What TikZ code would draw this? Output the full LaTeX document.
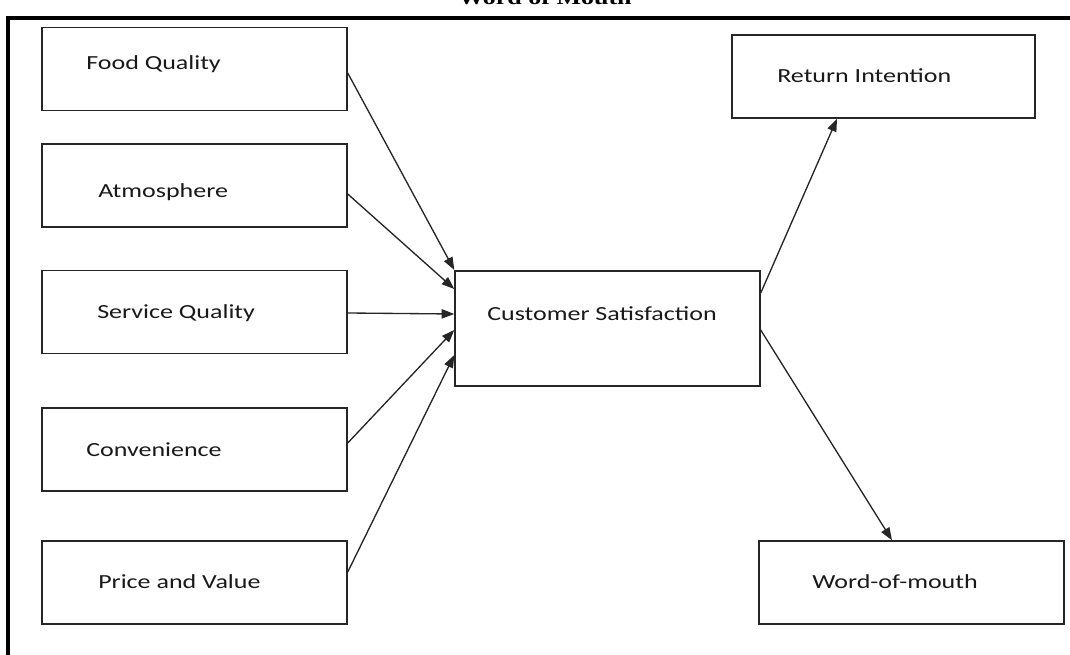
\documentclass[tikz,border=0pt]{standalone}
\usepackage{fontspec}
\usepackage{graphicx}
\setmainfont{Carlito}
\newfontfamily\titlefont{Liberation Serif}
\usetikzlibrary{arrows.meta}
\tikzset{
  px/.style={x=0.75pt,y=-0.75pt},
  box/.style={draw=black!85,line width=1.1pt,rectangle,inner sep=0pt,minimum width=228.75pt,minimum height=62.25pt},
  lbl/.style={anchor=base west,inner sep=0pt,text=black!90,font=\fontsize{15}{18}\selectfont},
  arr/.style={draw=black!85,line width=1pt,-{Triangle[length=9.5pt,width=7pt]}},
  frame/.style={draw=black,line width=2.3pt}
}
\newcommand{\wide}[1]{\scalebox{1.3}[1]{#1}}
\begin{document}
\begin{tikzpicture}[px]
\useasboundingbox (0,0) rectangle (1070,655);
% frame
\draw[frame] (8,660) -- (8,18) -- (1075,18);
\node[anchor=base,inner sep=0pt,font=\titlefont\bfseries\fontsize{15}{18}\selectfont] (title) at (545,5) {\wide{Word of Mouth}};
% boxes
\node[box] (food) at (194.5,69) {};
\node[box] (atm) at (194.5,185.5) {};
\node[box] (serv) at (194.5,312) {};
\node[box] (conv) at (194.5,449.5) {};
\node[box] (price) at (194.5,582.5) {};
\node[box,minimum height=86.25pt] (cs) at (607.5,328.5) {};
\node[box,minimum width=227.25pt] (ri) at (883.5,76.5) {};
\node[box] (wom) at (911.5,582.5) {};
% labels
\node[lbl] (tfood) at (86,70) {\wide{Food Quality}};
\node[lbl] (tatm) at (98,198) {\wide{Atmosphere}};
\node[lbl] (tserv) at (97,319) {\wide{Service Quality}};
\node[lbl] (tconv) at (86,456) {\wide{Convenience}};
\node[lbl] (tprice) at (98,588) {\wide{Price and Value}};
\node[lbl] (tcs) at (487,321) {\wide{Customer Satisfaction}};
\node[lbl] (tri) at (777,83) {\wide{Return Intention}};
\node[lbl] (twom) at (812,588) {\wide{Word-of-mouth}};
% arrows
\draw[arr] (food.east |- 0,73) -- (cs.west |- 0,270);
\draw[arr] (atm.east |- 0,194) -- (cs.west |- 0,289);
\draw[arr] (serv.east |- 0,313) -- (cs.west |- 0,314);
\draw[arr] (conv.east |- 0,443) -- (cs.west |- 0,330);
\draw[arr] (price.east |- 0,572) -- (cs.west |- 0,355);
\draw[arr] (cs.east |- 0,293) -- (ri.south -| 837,0);
\draw[arr] (cs.east |- 0,330) -- (wom.north -| 892,0);
\end{tikzpicture}
\end{document}
